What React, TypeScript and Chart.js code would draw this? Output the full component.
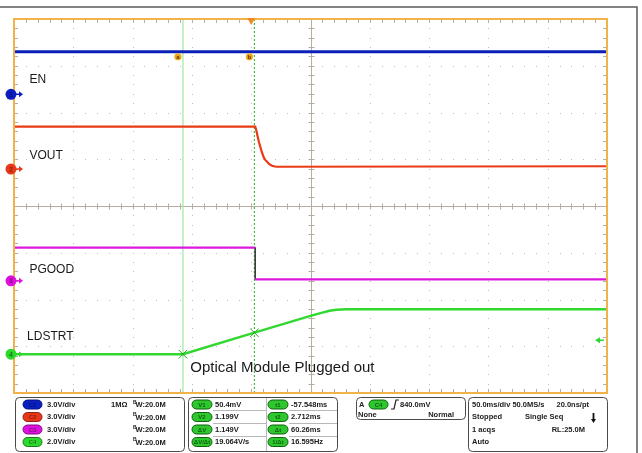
import React, { useEffect, useRef } from "react";
import { Chart, registerables } from "chart.js";

Chart.register(...registerables);

// ---- axes (time in ms, vertical in divisions) ----
const X_MIN = -200;
const X_MAX = 300;
const X_STEP = 50;
const Y_MIN = -4;
const Y_MAX = 4;
const Y_STEP = 1;
const MINOR = 5;

// ---- traces ----
const EN_T = [-200, 300];
const EN_V = [3.3, 3.3];

const VOUT_T = [-200, 3.4, 4.5, 5.5, 6.5, 7.6, 9, 10.4, 12, 13.2, 15, 17.5, 20, 22, 300];
const VOUT_V = [1.7, 1.7, 1.6, 1.48, 1.37, 1.27, 1.15, 1.05, 0.98, 0.95, 0.9, 0.86, 0.845, 0.84, 0.85];

const PGOOD_T = [-200, 3.4, 3.4, 300];
const PGOOD_V = [-0.89, -0.89, -1.57, -1.57];

const LDSTRT_T = [-200, -57.5, 2.7, 50, 60, 66, 72, 80, 300];
const LDSTRT_V = [-3.17, -3.17, -2.71, -2.35, -2.28, -2.24, -2.22, -2.21, -2.21];

// ---- cursors / trigger ----
const CURSOR_A_MS = -57.548;
const CURSOR_B_MS = 2.712;
const CURSOR_HITS_V = [-3.17, -2.71];
const TRIGGER_MS = 0;
const TRIG_LEVEL_DIV = -2.87;
const CURSOR_TAG_DIV = 3.19;

// ---- channel labels ----
const CH_NAMES = ["EN", "VOUT", "PGOOD", "LDSTRT"];
const CH_LABEL_X = [-187, -187, -187, -189];
const CH_LABEL_Y = [2.7, 1.07, -1.37, -2.8];
const CH_GND = [2.39, 0.79, -1.6, -3.17];
const CH_COLORS = ["#0a1fc0", "#e8381a", "#dd10dd", "#2ed82e"];
const CH_DARK = ["#0a1080", "#902010", "#801080", "#108010"];

const NOTE_TEXT = "Optical Module Plugged out";
const NOTE_X = -51.4;
const NOTE_Y = -3.47;

// ---- readout panel ----
const CH_SCALE = ["3.0V/div", "3.0V/div", "3.0V/div", "2.0V/div"];
const CH_BW = ["20.0M", "20.0M", "20.0M", "20.0M"];
const MEAS_V_LABELS = ["V1", "V2", "ΔV", "ΔV/Δt"];
const MEAS_V_VALUES = ["50.4mV", "1.199V", "1.149V", "19.064V/s"];
const MEAS_T_LABELS = ["t1", "t2", "Δt", "1/Δt"];
const MEAS_T_VALUES = ["-57.548ms", "2.712ms", "60.26ms", "16.595Hz"];
const TRIG_INFO = ["A", "C4", "840.0mV", "None", "Normal"];
const ACQ_INFO = ["50.0ms/div 50.0MS/s", "20.0ns/pt", "Stopped", "Single Seq", "1 acqs", "RL:25.0M", "Auto"];

const FONT = "'Liberation Sans', Arial, sans-serif";

const zip = (t: number[], v: number[]) => t.map((x, i) => ({ x, y: v[i] }));

function roundRect(ctx: CanvasRenderingContext2D, x: number, y: number, w: number, h: number, r: number) {
  ctx.beginPath();
  ctx.moveTo(x + r, y);
  ctx.lineTo(x + w - r, y);
  ctx.arcTo(x + w, y, x + w, y + r, r);
  ctx.lineTo(x + w, y + h - r);
  ctx.arcTo(x + w, y + h, x + w - r, y + h, r);
  ctx.lineTo(x + r, y + h);
  ctx.arcTo(x, y + h, x, y + h - r, r);
  ctx.lineTo(x, y + r);
  ctx.arcTo(x, y, x + r, y, r);
  ctx.closePath();
}

function pill(ctx: CanvasRenderingContext2D, x: number, y: number, w: number, h: number, fill: string, stroke: string, text: string) {
  roundRect(ctx, x, y, w, h, h / 2);
  ctx.fillStyle = fill;
  ctx.fill();
  ctx.lineWidth = 1;
  ctx.strokeStyle = stroke;
  ctx.stroke();
  ctx.fillStyle = stroke;
  ctx.font = `bold 6px ${FONT}`;
  ctx.textAlign = "center";
  ctx.textBaseline = "middle";
  ctx.fillText(text, x + w / 2, y + h / 2 + 0.5);
}

const gridPlugin = {
  id: "scopeGrid",
  beforeDatasetsDraw(chart: any) {
    const { ctx, chartArea: a, scales } = chart;
    const xs = scales.x;
    const ys = scales.y;
    ctx.save();
    ctx.fillStyle = "#ffffff";
    ctx.fillRect(a.left, a.top, a.right - a.left, a.bottom - a.top);
    const xc = (X_MIN + X_MAX) / 2;
    const yc = (Y_MIN + Y_MAX) / 2;
    // dotted major grid
    ctx.fillStyle = "#bdbdbd";
    for (let v = X_MIN + X_STEP; v < X_MAX; v += X_STEP) {
      if (v === xc) continue;
      const px = Math.round(xs.getPixelForValue(v));
      for (let k = Y_MIN * MINOR + 1; k < Y_MAX * MINOR; k++) {
        const py = Math.round(ys.getPixelForValue(k / MINOR));
        ctx.fillRect(px, py, 1, 1);
      }
    }
    for (let v = Y_MIN + Y_STEP; v < Y_MAX; v += Y_STEP) {
      if (v === yc) continue;
      const py = Math.round(ys.getPixelForValue(v));
      for (let k = (X_MIN / X_STEP) * MINOR + 1; k < (X_MAX / X_STEP) * MINOR; k++) {
        const px = Math.round(xs.getPixelForValue((k / MINOR) * X_STEP));
        ctx.fillRect(px, py, 1, 1);
      }
    }
    // center cross
    const cx = Math.round(xs.getPixelForValue(xc)) + 0.5;
    const cy = Math.round(ys.getPixelForValue(yc)) + 0.5;
    ctx.strokeStyle = "#b5ad9f";
    ctx.lineWidth = 1;
    ctx.beginPath();
    ctx.moveTo(cx, a.top);
    ctx.lineTo(cx, a.bottom);
    ctx.moveTo(a.left, cy);
    ctx.lineTo(a.right, cy);
    for (let k = Y_MIN * MINOR + 1; k < Y_MAX * MINOR; k++) {
      const py = Math.round(ys.getPixelForValue(k / MINOR)) + 0.5;
      ctx.moveTo(cx - 3, py);
      ctx.lineTo(cx + 3, py);
      ctx.moveTo(a.left, py);
      ctx.lineTo(a.left + 4, py);
      ctx.moveTo(a.right, py);
      ctx.lineTo(a.right - 4, py);
    }
    for (let k = (X_MIN / X_STEP) * MINOR + 1; k < (X_MAX / X_STEP) * MINOR; k++) {
      const px = Math.round(xs.getPixelForValue((k / MINOR) * X_STEP)) + 0.5;
      ctx.moveTo(px, cy - 3);
      ctx.lineTo(px, cy + 3);
      ctx.moveTo(px, a.top);
      ctx.lineTo(px, a.top + 4);
      ctx.moveTo(px, a.bottom);
      ctx.lineTo(px, a.bottom - 4);
    }
    ctx.stroke();
    ctx.restore();
  },
  afterDatasetsDraw(chart: any) {
    const { ctx, chartArea: a, scales } = chart;
    const xs = scales.x;
    const ys = scales.y;
    ctx.save();
    // channel names
    ctx.fillStyle = "#1a1a1a";
    ctx.font = `12px ${FONT}`;
    ctx.textAlign = "left";
    ctx.textBaseline = "middle";
    CH_NAMES.forEach((n, i) => {
      ctx.fillText(n, xs.getPixelForValue(CH_LABEL_X[i]), ys.getPixelForValue(CH_LABEL_Y[i]));
    });
    ctx.font = `15px ${FONT}`;
    ctx.fillText(NOTE_TEXT, xs.getPixelForValue(NOTE_X), ys.getPixelForValue(NOTE_Y));

    // orange border
    ctx.strokeStyle = "#f2b24a";
    ctx.lineWidth = 2;
    ctx.strokeRect(a.left, a.top, a.right - a.left, a.bottom - a.top);

    // cursor tags
    [["a", CURSOR_A_MS], ["b", CURSOR_B_MS]].forEach(([t, v]) => {
      const px = xs.getPixelForValue(v as number) - 5;
      const py = ys.getPixelForValue(CURSOR_TAG_DIV);
      ctx.beginPath();
      ctx.arc(px, py, 3.6, 0, Math.PI * 2);
      ctx.fillStyle = "#f0a818";
      ctx.fill();
      ctx.fillStyle = "#5a3a00";
      ctx.font = `bold 6px ${FONT}`;
      ctx.textAlign = "center";
      ctx.fillText(t as string, px, py + 0.5);
    });

    // trigger position marker
    const tx = xs.getPixelForValue(TRIGGER_MS);
    ctx.beginPath();
    ctx.moveTo(tx - 4, a.top - 1);
    ctx.lineTo(tx + 4, a.top - 1);
    ctx.lineTo(tx, a.top + 6);
    ctx.closePath();
    ctx.fillStyle = "#f08a1e";
    ctx.fill();

    // trigger level marker (right)
    const ly = ys.getPixelForValue(TRIG_LEVEL_DIV);
    ctx.strokeStyle = CH_COLORS[3];
    ctx.fillStyle = CH_COLORS[3];
    ctx.lineWidth = 1.5;
    ctx.beginPath();
    ctx.moveTo(a.right - 3, ly);
    ctx.lineTo(a.right - 10, ly);
    ctx.stroke();
    ctx.beginPath();
    ctx.moveTo(a.right - 12, ly);
    ctx.lineTo(a.right - 7, ly - 3);
    ctx.lineTo(a.right - 7, ly + 3);
    ctx.closePath();
    ctx.fill();

    // channel ground markers
    CH_GND.forEach((g, i) => {
      const py = ys.getPixelForValue(g);
      const px = a.left - 3;
      ctx.strokeStyle = CH_COLORS[i];
      ctx.fillStyle = CH_COLORS[i];
      ctx.lineWidth = 1.5;
      ctx.beginPath();
      ctx.moveTo(px + 4, py);
      ctx.lineTo(px + 10, py);
      ctx.stroke();
      ctx.beginPath();
      ctx.moveTo(px + 12, py);
      ctx.lineTo(px + 8, py - 3);
      ctx.lineTo(px + 8, py + 3);
      ctx.closePath();
      ctx.fill();
      ctx.beginPath();
      ctx.arc(px, py, 5.5, 0, Math.PI * 2);
      ctx.fillStyle = CH_COLORS[i];
      ctx.fill();
      ctx.fillStyle = CH_DARK[i];
      ctx.font = `bold 7px ${FONT}`;
      ctx.textAlign = "center";
      ctx.fillText(String(i + 1), px, py + 0.5);
    });
    ctx.restore();
  },
  afterDraw(chart: any) {
    const { ctx } = chart;
    ctx.save();
    // outer frame
    ctx.strokeStyle = "#5a5a5a";
    ctx.lineWidth = 1.5;
    ctx.beginPath();
    ctx.moveTo(0, 7);
    ctx.lineTo(637, 7);
    ctx.lineTo(637, 453);
    ctx.stroke();

    ctx.strokeStyle = "#4a4a4a";
    ctx.lineWidth = 1;
    const boxes = [
      [15.5, 397.5, 169, 54],
      [188.5, 397.5, 149, 54],
      [356.5, 397.5, 109, 22],
      [468.5, 397.5, 139, 54],
    ];
    boxes.forEach(([x, y, w, h]) => {
      roundRect(ctx, x, y, w, h, 4);
      ctx.stroke();
    });

    const rows = [404.5, 417, 429.5, 442];
    const txt = (s: string, x: number, y: number, align: CanvasTextAlign = "left", size = 7.5) => {
      ctx.fillStyle = "#202020";
      ctx.font = `bold ${size}px ${FONT}`;
      ctx.textAlign = align;
      ctx.textBaseline = "middle";
      ctx.fillText(s, x, y);
    };

    // channel box
    rows.forEach((ry, i) => {
      pill(ctx, 23, ry - 4.5, 19, 9, CH_COLORS[i], CH_DARK[i], `C${i + 1}`);
      txt(CH_SCALE[i], 47, ry);
      ctx.fillStyle = "#202020";
      ctx.font = `bold 5px ${FONT}`;
      ctx.textAlign = "left";
      ctx.fillText("B", 133, ry - 2);
      txt("W:" + CH_BW[i], 135.5, ry + 0.5);
      if (i === 0) txt("1MΩ", 111, ry);
    });

    // measurement box grid
    ctx.strokeStyle = "#b8b8b8";
    ctx.lineWidth = 1;
    ctx.beginPath();
    [410.5, 423.5, 436.5].forEach((ly) => {
      ctx.moveTo(213, ly);
      ctx.lineTo(266, ly);
      ctx.moveTo(289, ly);
      ctx.lineTo(337, ly);
    });
    ctx.moveTo(266.5, 398);
    ctx.lineTo(266.5, 451);
    ctx.stroke();
    rows.forEach((ry, i) => {
      pill(ctx, 192, ry - 4.5, 20, 9, "#2ec82e", "#0e600e", MEAS_V_LABELS[i]);
      txt(MEAS_V_VALUES[i], 215, ry);
      pill(ctx, 268, ry - 4.5, 20, 9, "#2ec82e", "#0e600e", MEAS_T_LABELS[i]);
      txt(MEAS_T_VALUES[i], 291, ry);
    });

    // trigger box
    txt(TRIG_INFO[0], 359, 404.5);
    pill(ctx, 369, 400, 19, 9, "#2ec82e", "#0e600e", TRIG_INFO[1]);
    ctx.strokeStyle = "#202020";
    ctx.lineWidth = 1.2;
    ctx.beginPath();
    ctx.moveTo(391, 409);
    ctx.lineTo(394, 409);
    ctx.lineTo(396, 400);
    ctx.lineTo(399, 400);
    ctx.stroke();
    txt(TRIG_INFO[2], 400, 404.5);
    txt(TRIG_INFO[3], 358, 414.5);
    txt(TRIG_INFO[4], 454, 414.5, "right");

    // acquisition box
    txt(ACQ_INFO[0], 472, 404.5);
    txt(ACQ_INFO[1], 589, 404.5, "right");
    txt(ACQ_INFO[2], 472, 417);
    txt(ACQ_INFO[3], 525, 417);
    txt(ACQ_INFO[4], 472, 429.5);
    txt(ACQ_INFO[5], 585, 429.5, "right");
    txt(ACQ_INFO[6], 472, 442);
    // down arrow
    ctx.strokeStyle = "#101010";
    ctx.fillStyle = "#101010";
    ctx.lineWidth = 1.8;
    ctx.beginPath();
    ctx.moveTo(593.5, 413);
    ctx.lineTo(593.5, 420);
    ctx.stroke();
    ctx.beginPath();
    ctx.moveTo(591, 419);
    ctx.lineTo(596, 419);
    ctx.lineTo(593.5, 423);
    ctx.closePath();
    ctx.fill();
    ctx.restore();
  },
};

export default function App() {
  const ref = useRef<HTMLCanvasElement | null>(null);
  useEffect(() => {
    if (!ref.current) return;
    const traceBase = { showLine: true, pointRadius: 0, tension: 0, fill: false, borderCapStyle: "butt" as const };
    const chart = new Chart(ref.current, {
      type: "scatter",
      data: {
        datasets: [
          { ...traceBase, label: "EN", data: zip(EN_T, EN_V), borderColor: "#0a1fb8", borderWidth: 3, order: 1 },
          { ...traceBase, label: "VOUT", data: zip(VOUT_T, VOUT_V), borderColor: "#ea3a16", borderWidth: 2.2, order: 1 },
          {
            ...traceBase,
            label: "PGOOD",
            data: zip(PGOOD_T, PGOOD_V),
            borderColor: "#dd18dd",
            borderWidth: 2.2,
            order: 1,
            segment: {
              borderColor: (c: any) => (c.p0.parsed.x === c.p1.parsed.x ? "#3a3a3a" : undefined),
              borderWidth: (c: any) => (c.p0.parsed.x === c.p1.parsed.x ? 1 : undefined),
            },
          },
          { ...traceBase, label: "LDSTRT", data: zip(LDSTRT_T, LDSTRT_V), borderColor: "#30d830", borderWidth: 2.4, order: 1 },
          {
            label: "hits",
            data: [
              { x: CURSOR_A_MS, y: CURSOR_HITS_V[0] },
              { x: CURSOR_B_MS, y: CURSOR_HITS_V[1] },
            ],
            showLine: false,
            pointStyle: "crossRot",
            pointRadius: 6,
            borderColor: "#2aa82a",
            borderWidth: 1,
            order: 0,
          },
          {
            ...traceBase,
            label: "cursor a",
            data: [
              { x: CURSOR_A_MS, y: Y_MIN },
              { x: CURSOR_A_MS, y: Y_MAX },
            ],
            borderColor: "#9ee89e",
            borderWidth: 1.2,
            order: 10,
          },
          {
            ...traceBase,
            label: "cursor b",
            data: [
              { x: CURSOR_B_MS, y: Y_MIN },
              { x: CURSOR_B_MS, y: Y_MAX },
            ],
            borderColor: "#3cc03c",
            borderWidth: 1.2,
            borderDash: [2, 2],
            order: 10,
          },
        ],
      },
      options: {
        animation: false,
        responsive: false,
        maintainAspectRatio: false,
        layout: { padding: { left: 14, top: 19, right: 35, bottom: 60 } },
        plugins: { legend: { display: false }, tooltip: { enabled: false } },
        scales: {
          x: { type: "linear", min: X_MIN, max: X_MAX, display: false },
          y: { type: "linear", min: Y_MIN, max: Y_MAX, display: false },
        },
      },
      plugins: [gridPlugin],
    });
    return () => chart.destroy();
  }, []);
  return (
    <div style={{ position: "absolute", left: 0, top: 0, width: 642, height: 453, background: "#fff" }}>
      <canvas ref={ref} width={642} height={453} style={{ width: 642, height: 453, display: "block" }} />
    </div>
  );
}
